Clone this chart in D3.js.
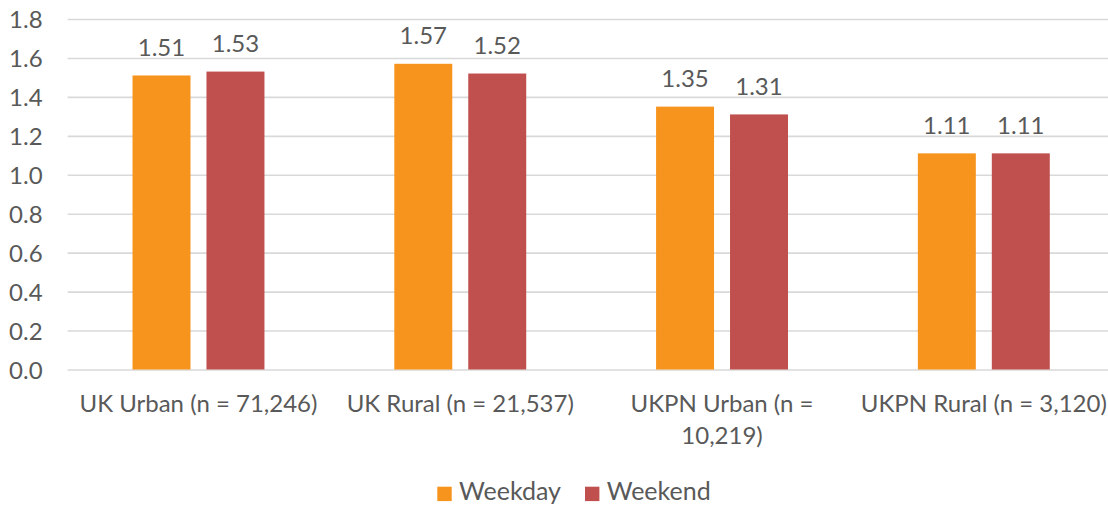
<!DOCTYPE html>
<html>
<head>
<meta charset="utf-8">
<script src="https://cdn.jsdelivr.net/npm/d3@7"></script>
<style>
  html, body { margin: 0; padding: 0; background: #fff; }
  svg { display: block; }
  text { font-family: Lato, "Open Sans", sans-serif; fill: #595959; }
</style>
</head>
<body>
<svg id="chart" width="1108" height="506"></svg>
<script>
// Average value per location group, split by day type
const categories = ["UK Urban (n = 71,246)", "UK Rural (n = 21,537)", "UKPN Urban (n =\n10,219)", "UKPN Rural (n = 3,120)"];
const seriesNames = ["Weekday", "Weekend"];
const weekday = [1.51, 1.57, 1.35, 1.11];
const weekend = [1.53, 1.52, 1.31, 1.11];
const yTicks = [0, 0.2, 0.4, 0.6, 0.8, 1.0, 1.2, 1.4, 1.6, 1.8];
const colors = ["#F7941D", "#C0504D"];

const rows = categories.map((c, i) => ({ cat: c, values: [weekday[i], weekend[i]] }));

const svg = d3.select("#chart");
const plotLeft = 67.6, plotRight = 1114.7, plotTop = 19, plotBottom = 369.5;
const fontSize = 24;

const y = d3.scaleLinear().domain([0, 1.8]).range([plotBottom, plotTop]);
const x0 = d3.scaleBand().domain(categories).range([plotLeft, plotRight])
  .paddingInner(0.496).paddingOuter(0.248);
const x1 = d3.scaleBand().domain(seriesNames).range([0, x0.bandwidth()])
  .paddingInner(0.216).paddingOuter(0);
const color = d3.scaleOrdinal().domain(seriesNames).range(colors);

// gridlines and value axis
const yAxis = d3.axisLeft(y).tickValues(yTicks).tickFormat(d3.format(".1f"))
  .tickSize(-(plotRight - plotLeft)).tickPadding(25);
const ga = svg.append("g").attr("transform", `translate(${plotLeft},0)`).call(yAxis);
ga.select(".domain").remove();
ga.selectAll(".tick line").attr("stroke", "#D9D9D9").attr("stroke-width", 1.6);
ga.selectAll(".tick text").attr("font-size", fontSize).attr("fill", "#595959")
  .attr("dy", "0.36em")
  .style("font-family", "Lato, 'Open Sans', sans-serif");

// bars
const groups = svg.append("g").selectAll("g").data(rows).join("g")
  .attr("transform", d => `translate(${x0(d.cat)},0)`);
groups.selectAll("rect").data(d => d.values.map((v, j) => ({ key: seriesNames[j], v })))
  .join("rect")
  .attr("x", d => x1(d.key))
  .attr("y", d => y(d.v))
  .attr("width", x1.bandwidth())
  .attr("height", d => y(0) - y(d.v))
  .attr("fill", d => color(d.key));

// value labels
groups.selectAll("text.val").data(d => d.values.map((v, j) => ({ key: seriesNames[j], v })))
  .join("text").attr("class", "val")
  .attr("x", d => x1(d.key) + x1.bandwidth() / 2)
  .attr("y", d => y(d.v) - 19.8)
  .attr("text-anchor", "middle")
  .attr("font-size", fontSize)
  .text(d => d3.format(".2f")(d.v));

// category labels
const xa = svg.append("g");
categories.forEach(c => {
  const cx = x0(c) + x0.bandwidth() / 2;
  const t = xa.append("text")
    .attr("x", cx)
    .attr("y", 412)
    .attr("text-anchor", "middle")
    .attr("font-size", fontSize);
  c.split("\n").forEach((line, i) => {
    t.append("tspan").attr("x", cx)
      .attr("dy", i === 0 ? 0 : 31.6).text(line);
  });
});

// legend
const legend = svg.append("g");
const legendX = [437.3, 585];
seriesNames.forEach((s, i) => {
  legend.append("rect").attr("x", legendX[i]).attr("y", 486.7)
    .attr("width", 14.4).attr("height", 14.4).attr("fill", color(s));
  legend.append("text").attr("x", legendX[i] + 21.7).attr("y", 500.3)
    .attr("font-size", 25).text(s);
});
</script>
</body>
</html>
